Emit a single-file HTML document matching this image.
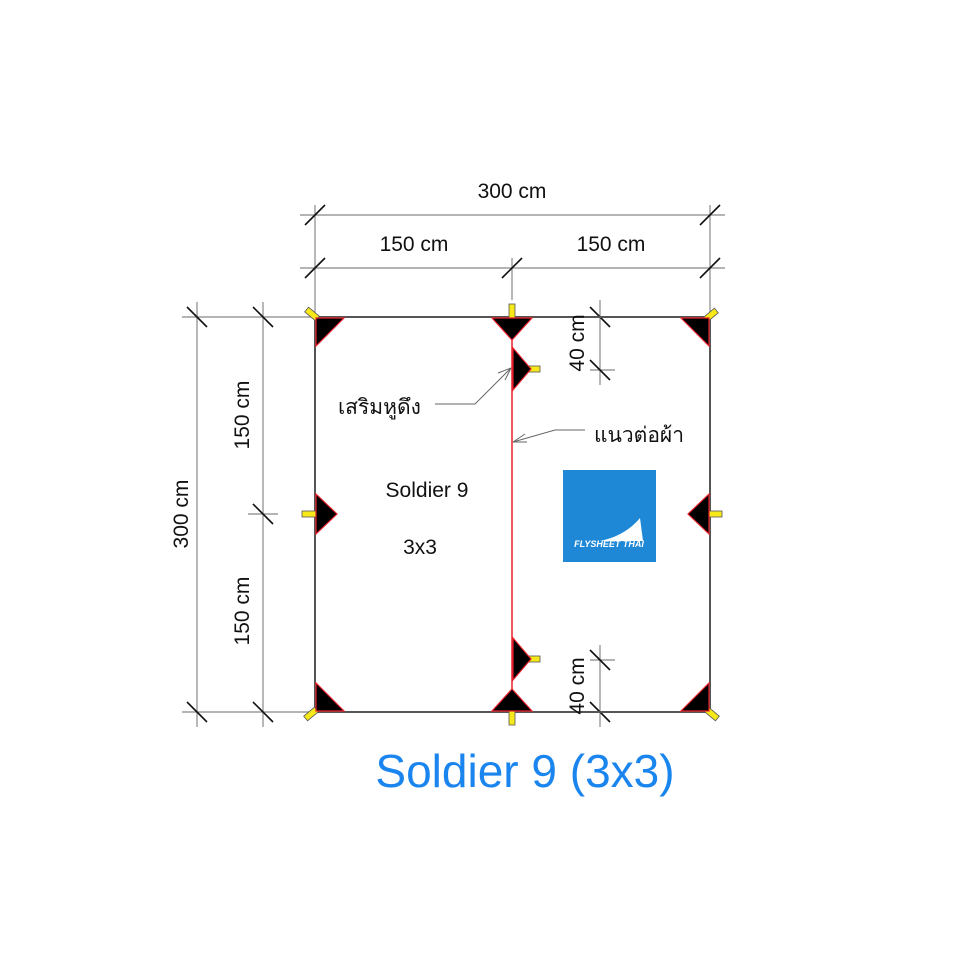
<!DOCTYPE html>
<html><head><meta charset="utf-8"><style>
html,body{margin:0;padding:0;background:#fff;}
svg{display:block;}
text{font-family:"Liberation Sans","Noto Sans CJK SC",sans-serif;}
</style></head><body>
<svg width="960" height="960" viewBox="0 0 960 960" xmlns="http://www.w3.org/2000/svg">
<rect width="960" height="960" fill="#fff"/>
<g stroke="#888" stroke-width="1.2" fill="none">
<line x1="300" y1="215" x2="725" y2="215"/>
<line x1="300" y1="268" x2="725" y2="268"/>
<line x1="315" y1="205" x2="315" y2="317"/>
<line x1="710" y1="205" x2="710" y2="317"/>
<line x1="512" y1="258" x2="512" y2="300"/>
<line x1="182" y1="317" x2="315" y2="317"/>
<line x1="182" y1="712" x2="315" y2="712"/>
<line x1="197" y1="302" x2="197" y2="727"/>
<line x1="263" y1="302" x2="263" y2="727"/>
<line x1="248" y1="514" x2="278" y2="514"/>
<line x1="600" y1="300" x2="600" y2="385"/>
<line x1="585" y1="317" x2="620" y2="317"/>
<line x1="590" y1="370" x2="615" y2="370"/>
<line x1="600" y1="645" x2="600" y2="727"/>
<line x1="590" y1="660" x2="615" y2="660"/>
<line x1="580" y1="712" x2="620" y2="712"/>
</g>
<g stroke="#111" stroke-width="1.6">
<line x1="305" y1="225" x2="325" y2="205"/>
<line x1="700" y1="225" x2="720" y2="205"/>
<line x1="305" y1="278" x2="325" y2="258"/>
<line x1="502" y1="278" x2="522" y2="258"/>
<line x1="700" y1="278" x2="720" y2="258"/>
<line x1="187" y1="307" x2="207" y2="327"/>
<line x1="253" y1="307" x2="273" y2="327"/>
<line x1="253" y1="504" x2="273" y2="524"/>
<line x1="187" y1="702" x2="207" y2="722"/>
<line x1="253" y1="702" x2="273" y2="722"/>
<line x1="590" y1="307" x2="610" y2="327"/>
<line x1="590" y1="360" x2="610" y2="380"/>
<line x1="590" y1="650" x2="610" y2="670"/>
<line x1="590" y1="702" x2="610" y2="722"/>
</g>
<rect x="315" y="317" width="395" height="395" fill="none" stroke="#555" stroke-width="2"/>
<line x1="512" y1="317" x2="512" y2="712" stroke="#e8202a" stroke-width="1.5"/>
<g fill="#f7e81a" stroke="#555" stroke-width="0.8">
<rect x="305" y="311" width="14" height="6" transform="rotate(40 312 314)"/>
<rect x="704" y="312" width="14" height="6" transform="rotate(-40 711 315)"/>
<rect x="304" y="711" width="14" height="6" transform="rotate(-40 311 714)"/>
<rect x="705" y="711" width="14" height="6" transform="rotate(40 712 714)"/>
<rect x="509" y="304" width="6" height="16"/>
<rect x="509" y="710" width="6" height="15"/>
<rect x="520" y="366" width="20" height="6"/>
<rect x="520" y="656" width="20" height="6"/>
<rect x="302" y="511" width="14" height="6"/>
<rect x="708" y="511" width="14" height="6"/>
</g>
<g fill="#000" stroke="#e8202a" stroke-width="1.2">
<polygon points="316,318 344,318 316,346"/>
<polygon points="709,318 681,318 709,346"/>
<polygon points="316,711 344,711 316,683"/>
<polygon points="709,711 681,711 709,683"/>
<polygon points="492,318 532,318 512,340"/>
<polygon points="492,711 532,711 512,689"/>
<polygon points="513,348 531,369 513,390"/>
<polygon points="513,638 531,659 513,680"/>
<polygon points="316,494 337,514 316,534"/>
<polygon points="709,494 688,514 709,534"/>
</g>
<g stroke="#666" stroke-width="1" fill="none">
<polyline points="435,404 475,404 511,368"/>
<line x1="511" y1="368" x2="498" y2="373"/>
<line x1="511" y1="368" x2="505" y2="380"/>
<polyline points="585,430 555,430 513,442"/>
<line x1="513" y1="442" x2="525" y2="434"/>
<line x1="513" y1="442" x2="527" y2="442"/>
</g>
<rect x="563" y="470" width="93" height="92" fill="#1e88d6"/>
<path d="M600 541 Q625 536 640 518 L643 541 Z" fill="#fff"/>
<text x="609" y="547" font-size="9" font-weight="bold" font-style="italic" fill="#fff" text-anchor="middle">FLYSHEET THAI</text>
<g fill="#111" font-size="21">
<text x="512" y="198" text-anchor="middle">300 cm</text>
<text x="414" y="251" text-anchor="middle">150 cm</text>
<text x="611" y="251" text-anchor="middle">150 cm</text>
<text x="427" y="497" text-anchor="middle">Soldier 9</text>
<text x="420" y="554" text-anchor="middle">3x3</text>
<text x="338" y="414">เสริมหูดึง</text>
<text x="594" y="442">แนวต่อผ้า</text>
<text transform="translate(188,514) rotate(-90)" text-anchor="middle">300 cm</text>
<text transform="translate(249,415) rotate(-90)" text-anchor="middle">150 cm</text>
<text transform="translate(249,611) rotate(-90)" text-anchor="middle">150 cm</text>
<text transform="translate(584,343) rotate(-90)" text-anchor="middle">40 cm</text>
<text transform="translate(584,686) rotate(-90)" text-anchor="middle">40 cm</text>
</g>
<text x="525" y="787" font-size="46" fill="#1a85ee" text-anchor="middle">Soldier 9 (3x3)</text>
</svg>
</body></html>
